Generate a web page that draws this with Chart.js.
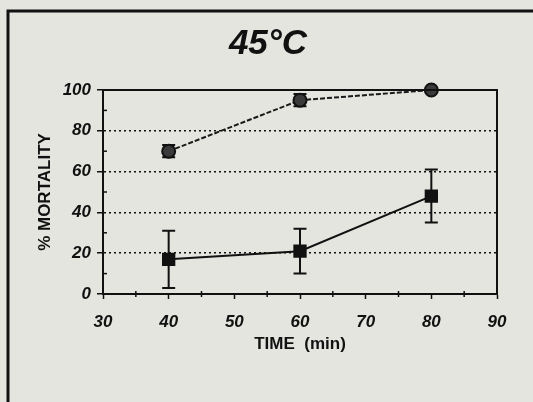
<!DOCTYPE html>
<html>
<head>
<meta charset="utf-8">
<script src="https://cdn.jsdelivr.net/npm/chart.js@4/dist/chart.umd.min.js"></script>
<style>
  html, body { margin: 0; padding: 0; background: #e4e5df; }
  #wrap { width: 533px; height: 402px; }
</style>
</head>
<body>
<div id="wrap"><canvas id="mortalityChart"></canvas></div>
<script>
const titleText = '45°C';
const times = [40, 60, 80];
const circleMortality = [70, 95, 100];
const circleError = [3, 3, 0.5];
const squareMortality = [17, 21, 48];
const squareError = [14, 11, 13];
const xMinorTicks = [35, 45, 55, 65, 75, 85];
const yMinorTicks = [10, 30, 50, 70, 90];

const tickFont = { family: 'Liberation Sans', size: 17, weight: 'bold', style: 'italic' };

const toPoints = (ys) => times.map((t, i) => ({ x: t, y: ys[i] }));

// draws frame, title, error bars and minor ticks
const decorations = {
  id: 'decorations',
  beforeDraw(chart) {
    const ctx = chart.ctx;
    ctx.save();
    ctx.fillStyle = '#e4e5df';
    ctx.fillRect(0, 0, chart.width, chart.height);
    ctx.strokeStyle = '#111';
    ctx.lineWidth = 3;
    ctx.strokeRect(8, 11, 560, 420);
    ctx.fillStyle = '#111';
    ctx.font = 'italic bold 35px "Liberation Sans"';
    ctx.textAlign = 'center';
    ctx.textBaseline = 'middle';
    ctx.fillText(titleText, 268, 44);
    ctx.restore();
  },
  afterDraw(chart) {
    const ctx = chart.ctx;
    const x = chart.scales.x;
    const y = chart.scales.y;
    const area = chart.chartArea;
    ctx.save();
    ctx.strokeStyle = '#111';
    ctx.lineWidth = 2;
    ctx.beginPath();
    ctx.moveTo(area.left, area.top);
    ctx.lineTo(area.right, area.top);
    ctx.lineTo(area.right, area.bottom);
    ctx.stroke();

    ctx.lineWidth = 1.5;
    xMinorTicks.forEach((v) => {
      const px = x.getPixelForValue(v);
      ctx.beginPath();
      ctx.moveTo(px, area.bottom - 3);
      ctx.lineTo(px, area.bottom + 3);
      ctx.stroke();
    });
    yMinorTicks.forEach((v) => {
      const py = y.getPixelForValue(v);
      ctx.beginPath();
      ctx.moveTo(area.left, py);
      ctx.lineTo(area.left + 4, py);
      ctx.stroke();
    });
    ctx.restore();
  },
  beforeDatasetsDraw(chart) {
    const ctx = chart.ctx;
    const x = chart.scales.x;
    const y = chart.scales.y;
    const sets = [
      { values: circleMortality, errors: circleError },
      { values: squareMortality, errors: squareError },
    ];
    ctx.save();
    ctx.strokeStyle = '#111';
    ctx.lineWidth = 2;
    sets.forEach((s) => {
      times.forEach((t, i) => {
        const px = x.getPixelForValue(t);
        const top = y.getPixelForValue(s.values[i] + s.errors[i]);
        const bottom = y.getPixelForValue(s.values[i] - s.errors[i]);
        ctx.beginPath();
        ctx.moveTo(px, top);
        ctx.lineTo(px, bottom);
        ctx.moveTo(px - 6.5, top);
        ctx.lineTo(px + 6.5, top);
        ctx.moveTo(px - 6.5, bottom);
        ctx.lineTo(px + 6.5, bottom);
        ctx.stroke();
      });
    });
    ctx.restore();
  },
};

new Chart(document.getElementById('mortalityChart'), {
  type: 'line',
  data: {
    datasets: [
      {
        label: 'circles',
        data: toPoints(circleMortality),
        borderColor: '#1a1a1a',
        borderWidth: 2,
        borderDash: [5, 2],
        pointStyle: 'circle',
        pointRadius: 6.5,
        pointBackgroundColor: '#3a3a3a',
        pointBorderColor: '#111',
        pointBorderWidth: 2,
        clip: false,
      },
      {
        label: 'squares',
        data: toPoints(squareMortality),
        borderColor: '#111',
        borderWidth: 2,
        pointStyle: 'rect',
        pointRadius: 8,
        pointBackgroundColor: '#111',
        pointBorderColor: '#111',
        clip: false,
      },
    ],
  },
  options: {
    responsive: true,
    maintainAspectRatio: false,
    animation: false,
    layout: { padding: { top: 90, right: 36, bottom: 0, left: 0 } },
    plugins: { legend: { display: false }, tooltip: { enabled: false } },
    scales: {
      x: {
        type: 'linear',
        min: 30,
        max: 90,
        afterFit: (s) => { s.height = 108; },
        ticks: { stepSize: 10, color: '#111', font: tickFont, padding: 13 },
        grid: { drawOnChartArea: false, tickLength: 5, tickWidth: 1.5, tickColor: '#111' },
        border: { color: '#111', width: 2 },
        title: {
          display: true,
          text: 'TIME  (min)',
          color: '#111',
          font: { family: 'Liberation Sans', size: 17, weight: 'bold' },
          padding: { top: 0, bottom: 47 },
        },
      },
      y: {
        min: 0,
        max: 100,
        afterFit: (s) => { s.width = 103; },
        ticks: { stepSize: 20, color: '#111', font: tickFont, padding: 6 },
        grid: {
          color: (c) => (c.tick.value === 0 ? 'rgba(0,0,0,0)' : '#111'),
          lineWidth: 1.5,
          tickLength: 6,
          tickWidth: 1.5,
          tickColor: '#111',
        },
        border: { color: '#111', width: 2, dash: [2, 3] },
        title: {
          display: true,
          text: '% MORTALITY',
          color: '#111',
          font: { family: 'Liberation Sans', size: 17, weight: 'bold' },
          padding: { top: 35, bottom: 0 },
        },
      },
    },
  },
  plugins: [decorations],
});
</script>
</body>
</html>
